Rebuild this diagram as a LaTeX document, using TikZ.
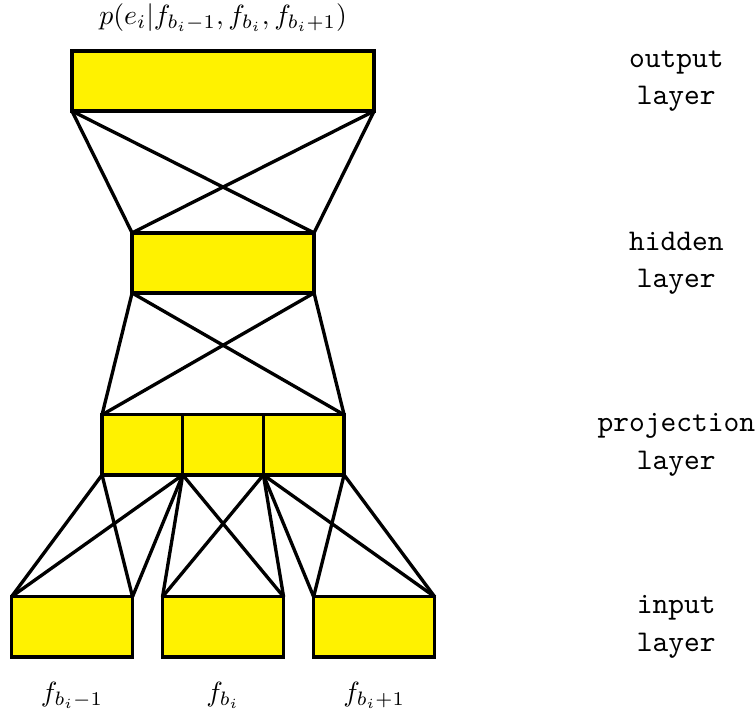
\documentclass[tikz,border=0pt]{standalone}
\usepackage{amsmath}
\usepackage{tikz}
\usetikzlibrary{positioning}

\tikzset{
  unit/.style={draw=black, fill=yellow, very thick, outer sep=0pt,
               minimum height=0.76cm, inner sep=0pt},
  link/.style={very thick, line cap=round},
  layername/.style={font=\fontsize{10.8}{13.4}\selectfont\ttfamily, align=center}
}

\begin{document}
\begin{tikzpicture}
        \useasboundingbox (0,0) rectangle (9.557,9.039);
        % boxes
        \node[unit, minimum width=3.82cm] (out) at (2.82,8.015) {};
        \node[unit, minimum width=2.30cm, below=1.54cm of out] (hid) {};
        \node[unit, minimum width=1.02cm, below=1.54cm of hid] (proj2) {};
        \node[unit, minimum width=1.02cm, left=0pt of proj2] (proj1) {};
        \node[unit, minimum width=1.02cm, right=0pt of proj2] (proj3) {};
        \node[unit, minimum width=1.53cm, below=1.54cm of proj2] (in2) {};
        \node[unit, minimum width=1.53cm, left=0.38cm of in2] (in1) {};
        \node[unit, minimum width=1.53cm, right=0.38cm of in2] (in3) {};
        % texts
        \node[above=0.12cm of out] (prob) {$p(e_i|f_{b_i-1},f_{b_i},f_{b_i+1})$};
        \node[below=0.2cm of in1] (w1) {$f_{b_i-1}$};
        \node[below=0.2cm of in2] (w2) {$f_{b_i}$};
        \node[below=0.2cm of in3] (w3) {$f_{b_i+1}$};
        \node[layername] (lout) at (8.55,0 |- out) {output\\layer};
        \node[layername] (lhid) at (8.55,0 |- hid) {hidden\\layer};
        \node[layername] (lproj) at (8.55,0 |- proj2) {projection\\layer};
        \node[layername] (lin) at (8.55,0 |- in2) {input\\layer};
        % connections
        \foreach \a in {south west, south east}
          \foreach \b in {north west, north east}
            \draw[link] (out.\a) -- (hid.\b);
        \draw[link] (hid.south west) -- (proj1.north west);
        \draw[link] (hid.south west) -- (proj3.north east);
        \draw[link] (hid.south east) -- (proj1.north west);
        \draw[link] (hid.south east) -- (proj3.north east);
        \foreach \i in {1,2,3}
          \foreach \a in {south west, south east}
            \foreach \b in {north west, north east}
              \draw[link] (proj\i.\a) -- (in\i.\b);
      \end{tikzpicture}
\end{document}
